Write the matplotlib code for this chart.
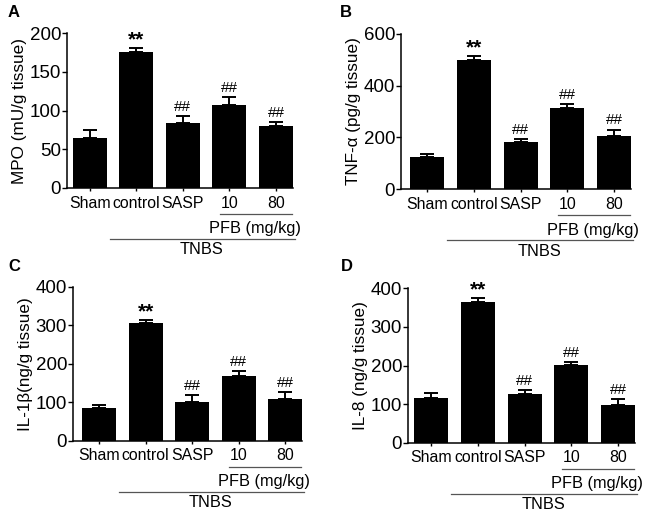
import matplotlib
matplotlib.use("Agg")
import matplotlib.pyplot as plt
from matplotlib.transforms import blended_transform_factory

plt.rcParams['font.family'] = ['Liberation Sans', 'DejaVu Sans']

categories = ["Sham", "control", "SASP", "10", "80"]

mpo_mean = [64.5, 175, 84, 106.7, 80.4]
mpo_err = [10, 6, 9, 10.3, 4.3]
tnf_mean = [124, 500.6, 180.6, 313.5, 204]
tnf_err = [10, 15.4, 12.9, 16.5, 26]
il1b_mean = [84, 306.6, 100.4, 167, 108]
il1b_err = [7.8, 7.4, 18.2, 13, 18]
il8_mean = [116.6, 363.7, 126, 200.4, 96.8]
il8_err = [11.3, 10.3, 10.5, 9.6, 15.5]

marks_mpo = ["", "**", "##", "##", "##"]
marks_tnf = ["", "**", "##", "##", "##"]
marks_il1b = ["", "**", "##", "##", "##"]
marks_il8 = ["", "**", "##", "##", "##"]

W, H = 649, 512
fig = plt.figure(figsize=(W / 100, H / 100), dpi=100)


def add_ax(left, right, top, bottom):
    return fig.add_axes([left / W, 1 - bottom / H, (right - left) / W, (bottom - top) / H])


panels = [
    dict(box=(67, 293, 33, 188), lpad=0.49, ylim=200, ticks=[0, 50, 100, 150, 200],
         mean=mpo_mean, err=mpo_err, marks=marks_mpo, ylabel="MPO (mU/g tissue)",
         letter="A", lpos=(8, 17)),
    dict(box=(401, 631, 34, 189), lpad=0.56, ylim=600, ticks=[0, 200, 400, 600],
         mean=tnf_mean, err=tnf_err, marks=marks_tnf, ylabel="TNF-α (pg/g tissue)",
         letter="B", lpos=(340, 17)),
    dict(box=(73, 302, 286.7, 440.7), lpad=0.56, ylim=400, ticks=[0, 100, 200, 300, 400],
         mean=il1b_mean, err=il1b_err, marks=marks_il1b, ylabel="IL-1β(ng/g tissue)",
         letter="C", lpos=(8, 271)),
    dict(box=(408, 635, 288.3, 442.7), lpad=0.50, ylim=400, ticks=[0, 100, 200, 300, 400],
         mean=il8_mean, err=il8_err, marks=marks_il8, ylabel="IL-8 (ng/g tissue)",
         letter="D", lpos=(341, 271)),
]

bw = 0.73
for p in panels:
    l, r, t, b = p['box']
    ax = add_ax(l, r, t, b)
    x = list(range(len(categories)))
    ax.bar(x, p['mean'], width=bw, color='black', zorder=2)
    ax.errorbar(x, p['mean'], yerr=[[0] * 5, p['err']], fmt='none', ecolor='black',
                elinewidth=1.4, capsize=5.2, capthick=1.4, zorder=3)
    ax.set_xlim(-p['lpad'], 4 + bw / 2)
    ax.set_ylim(0, p['ylim'])
    ax.set_yticks(p['ticks'])
    ax.set_xticks(x)
    ax.set_xticklabels(categories, fontsize=11.4)
    ax.tick_params(axis='y', labelsize=13.5, length=3.5, width=1, pad=0.8)
    ax.tick_params(axis='x', length=2.2, width=1, pad=3.4)
    for s in ['top', 'right']:
        ax.spines[s].set_visible(False)
    for s in ['left', 'bottom']:
        ax.spines[s].set_linewidth(1.1)
    ax.set_ylabel(p['ylabel'], fontsize=12.3, labelpad=2)
    for xi, m, e, mk in zip(x, p['mean'], p['err'], p['marks']):
        if not mk:
            continue
        if mk == "**":
            ax.annotate(mk, (xi, m + e), xytext=(0, -1), textcoords='offset points',
                        ha='center', va='bottom', fontsize=15, fontweight='bold')
        else:
            ax.annotate(mk, (xi, m + e), xytext=(0, 1.5), textcoords='offset points',
                        ha='center', va='bottom', fontsize=11)
    h = b - t
    tr = blended_transform_factory(ax.transData, ax.transAxes)
    y1 = -26 / h
    y2 = -41 / h
    y3 = -51 / h
    y4 = -62 / h
    ax.plot([2.8, 4.35], [y1, y1], transform=tr, color='#555555', lw=0.9, clip_on=False)
    ax.text(3.55, y2, "PFB (mg/kg)", transform=tr, ha='center', va='center', fontsize=11.8)
    ax.plot([0.43, 4.4], [y3, y3], transform=tr, color='#555555', lw=0.9, clip_on=False)
    ax.text(2.4, y4, "TNBS", transform=tr, ha='center', va='center', fontsize=11.8)
    fig.text(p['lpos'][0] / W, 1 - p['lpos'][1] / H, p['letter'], fontsize=12,
             fontweight='bold', ha='left', va='baseline')

fig.savefig("out.png", dpi=100)
